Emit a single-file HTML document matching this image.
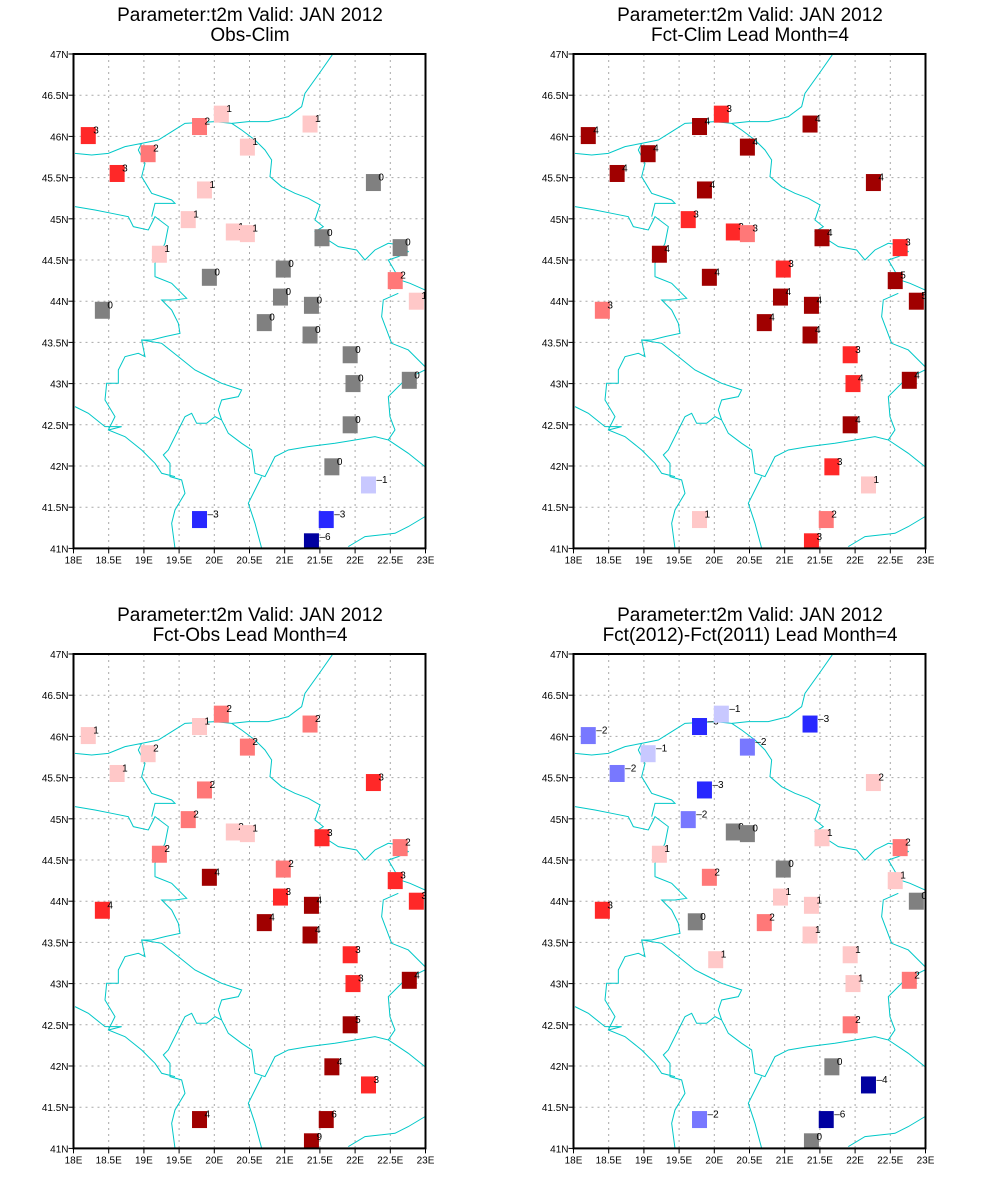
<!DOCTYPE html>
<html><head><meta charset="utf-8"><style>
html,body{margin:0;padding:0;background:#fff;width:1000px;height:1200px;overflow:hidden}
svg{display:block;font-family:"Liberation Sans",sans-serif}
</style></head><body>
<svg id="chart" width="1000" height="1200" xmlns="http://www.w3.org/2000/svg">
<defs>
<path id="borders" fill="none" stroke="#00c8c8" stroke-width="3" d="
M775,10 L740,60 L690,130 L680,170 L640,200 L580,215 L520,215 L470,220 L420,215 L330,220 L290,245 L250,270 L200,280 L150,290 L100,310 L50,315 L0,310
M470,220 L500,240 L540,270 L570,300 L590,330 L585,380 L620,410 L660,430 L700,445 L735,465 L720,510 L745,530 L720,545 L790,590 L845,600 L870,630 L900,600 L940,580 L975,585 L1000,605 L970,620 L940,630 L975,690 L1005,700 L1050,720
M970,730 L925,750 L920,800 L950,880 L1000,900 L1050,950
M1050,960 L990,990 L940,1040 L945,1100 L960,1140 L940,1170 L900,1160 L840,1170 L780,1180 L700,1190 L640,1200 L600,1220 L570,1280 L540,1270 L530,1200 L500,1180 L460,1150 L440,1110 L420,1100 L395,1120 L365,1120 L350,1090 L330,1100 L300,1160 L280,1200 L265,1215 L285,1240 L285,1280 L320,1290 L330,1330 L300,1380 L290,1420 L300,1495
M560,1280 L520,1360 L540,1420 L560,1495
M820,1490 L870,1460 L960,1450 L1000,1430 L1050,1400
M940,1170 L1000,1210 L1050,1250
M0,470 L60,480 L110,490 L160,500 L175,530 L220,540 L240,500 L280,530 L270,580 L240,640 L240,680 L290,700 L320,730 L335,745 L300,750 L260,750 L290,780 L310,820 L315,850 L270,860 L230,870 L200,870 L210,920 L190,910 L150,920 L130,960 L130,1000 L95,1000 L90,1050 L120,1100 L100,1140 L150,1160 L200,1200 L240,1240 L260,1270 L300,1280
M200,280 L190,300 L210,340 L200,380 L230,430 L290,450 L300,460 L240,460 L230,500
M200,870 L260,880 L310,920 L360,960 L400,980 L440,1000 L500,1020 L490,1040 L440,1050 L430,1080 L440,1110
M0,1070 L40,1090 L90,1130 L140,1130 L100,1140"/>
</defs>
</svg>
<script>
const stationLon=[18.21,18.62,19.06,19.79,20.10,20.47,21.36,19.86,19.63,19.22,20.27,20.47,19.93,18.41,20.98,20.94,20.71,21.38,21.36,21.53,22.26,22.64,22.57,22.87,21.93,21.97,22.77,21.93,21.67,22.19,19.79,21.59,21.38,19.73,20.02];
const stationLat=[46.01,45.55,45.79,46.12,46.27,45.87,46.15,45.35,44.99,44.57,44.84,44.82,44.29,43.89,44.39,44.05,43.74,43.95,43.59,44.77,45.44,44.65,44.25,44.00,43.35,43.00,43.04,42.50,41.99,41.77,41.35,41.35,41.08,43.75,43.29];
const obsClim=[3,3,2,2,1,1,1,1,1,1,1,1,0,0,0,0,0,0,0,0,0,0,2,1,0,0,0,0,0,-1,-3,-3,-6,null,null];
const fctClim=[4,4,4,4,3,4,4,4,3,4,3,2.6,4,2.6,3,4,4,4,4,4,4,3,5,5,3,3.6,4,4,3,1,1,2,3,null,null];
const fctObs=[1,1,1.6,1,2,2,2,2,2,2,1.6,1,4,3.6,2,3,4,4,4,3,3,2,3,3,3,3,4,5,4,3,4,6,9,null,null];
const fctDiff=[-2,-2,-1,-3,-1,-2,-3,-3,-2,1,0,0,2,3,0,1,2,1,1,1,1.6,2,1,0,1,1,2,2,0,-4,-2,-6,0,0,1];
const lonTicks=["18E","18.5E","19E","19.5E","20E","20.5E","21E","21.5E","22E","22.5E","23E"];
const latTicks=["41N","41.5N","42N","42.5N","43N","43.5N","44N","44.5N","45N","45.5N","46N","46.5N","47N"];
const panelTitles=["Obs-Clim","Fct-Clim Lead Month=4","Fct-Obs Lead Month=4","Fct(2012)-Fct(2011) Lead Month=4"];
const panelValues=[obsClim,fctClim,fctObs,fctDiff];
const panelOffsets=[[0,0],[500,0],[0,600],[500,600]];
const NS="http://www.w3.org/2000/svg";
const svg=document.getElementById('chart');
function mk(t,a,p){const e=document.createElementNS(NS,t);for(const k in a)e.setAttribute(k,a[k]);(p||svg).appendChild(e);return e;}
function xS(lon){return 73.5+(lon-18)*70.4;}
function yS(lat){return 54+(47-lat)*82.4;}
function colorOf(v){const c=Math.trunc(v);
 if(c>=4)return"#a00000";if(c===3)return"#ff2828";if(c===2)return"#ff7878";if(c===1)return"#ffc8c8";
 if(c===0)return"#808080";if(c===-1)return"#c8c8ff";if(c===-2)return"#7878ff";if(c===-3)return"#2828ff";return"#0000a0";}
panelValues.forEach((vals,pi)=>{
 const [ox,oy]=panelOffsets[pi];
 const g=mk('g',{transform:`translate(${ox},${oy})`});
 
 
 const t1=mk('text',{x:250,y:21,'text-anchor':'middle','font-size':19},g);t1.textContent="Parameter:t2m Valid: JAN 2012";
 
 
 const t2=mk('text',{x:250,y:41,'text-anchor':'middle','font-size':19},g);t2.textContent=panelTitles[pi];
 
 
 const grid=mk('g',{stroke:'#a8a8a8','stroke-width':1,'stroke-dasharray':'2,4'},g);
 
 
 lonTicks.forEach((lab,i)=>{const x=xS(18+i*0.5);
  if(i>0&&i<lonTicks.length-1)mk('line',{x1:x,y1:yS(47),x2:x,y2:yS(41)},grid);
  mk('line',{x1:x,y1:yS(41),x2:x,y2:yS(41)+5,stroke:'#000'},g);
  const tx=mk('text',{x:x,y:yS(41)+15,'text-anchor':'middle','font-size':10},g);tx.textContent=lab;
  
  });
 latTicks.forEach((lab,i)=>{const y=yS(41+i*0.5);
  if(i>0&&i<latTicks.length-1)mk('line',{x1:xS(18),y1:y,x2:xS(23),y2:y},grid);
  mk('line',{x1:xS(18)-5,y1:y,x2:xS(18),y2:y,stroke:'#000'},g);
  const ty=mk('text',{x:xS(18)-5,y:y+4,'text-anchor':'end','font-size':10},g);ty.textContent=lab;
  
  });
 const clipId='clip'+pi;
 const cp=mk('clipPath',{id:clipId},g);mk('rect',{x:xS(18),y:yS(47),width:xS(23)-xS(18),height:yS(41)-yS(47)},cp);
 const bg=mk('g',{'clip-path':`url(#${clipId})`},g);
 const u=mk('use',{href:'#borders',transform:`translate(75,50) scale(0.3333)`},bg);
 
 
 vals.forEach((v,i)=>{if(v===null||v===undefined)return;
  const cx=xS(stationLon[i]),cy=yS(stationLat[i]);
  const r=mk('rect',{x:cx-7.5,y:cy-8.5,width:15,height:17,fill:colorOf(v)},bg);
  
  
  const lab=Math.round(v);
  const tl=mk('text',{x:cx+(lab<0?8:5),y:cy-2,'font-size':10},bg);
  tl.textContent=lab<0?('\u2013'+Math.abs(lab)):String(lab);
  
  
 });
 const fr=mk('rect',{x:xS(18),y:yS(47),width:xS(23)-xS(18),height:yS(41)-yS(47),fill:'none',stroke:'#000','stroke-width':2},g);
 
 
});
</script>
</body></html>
